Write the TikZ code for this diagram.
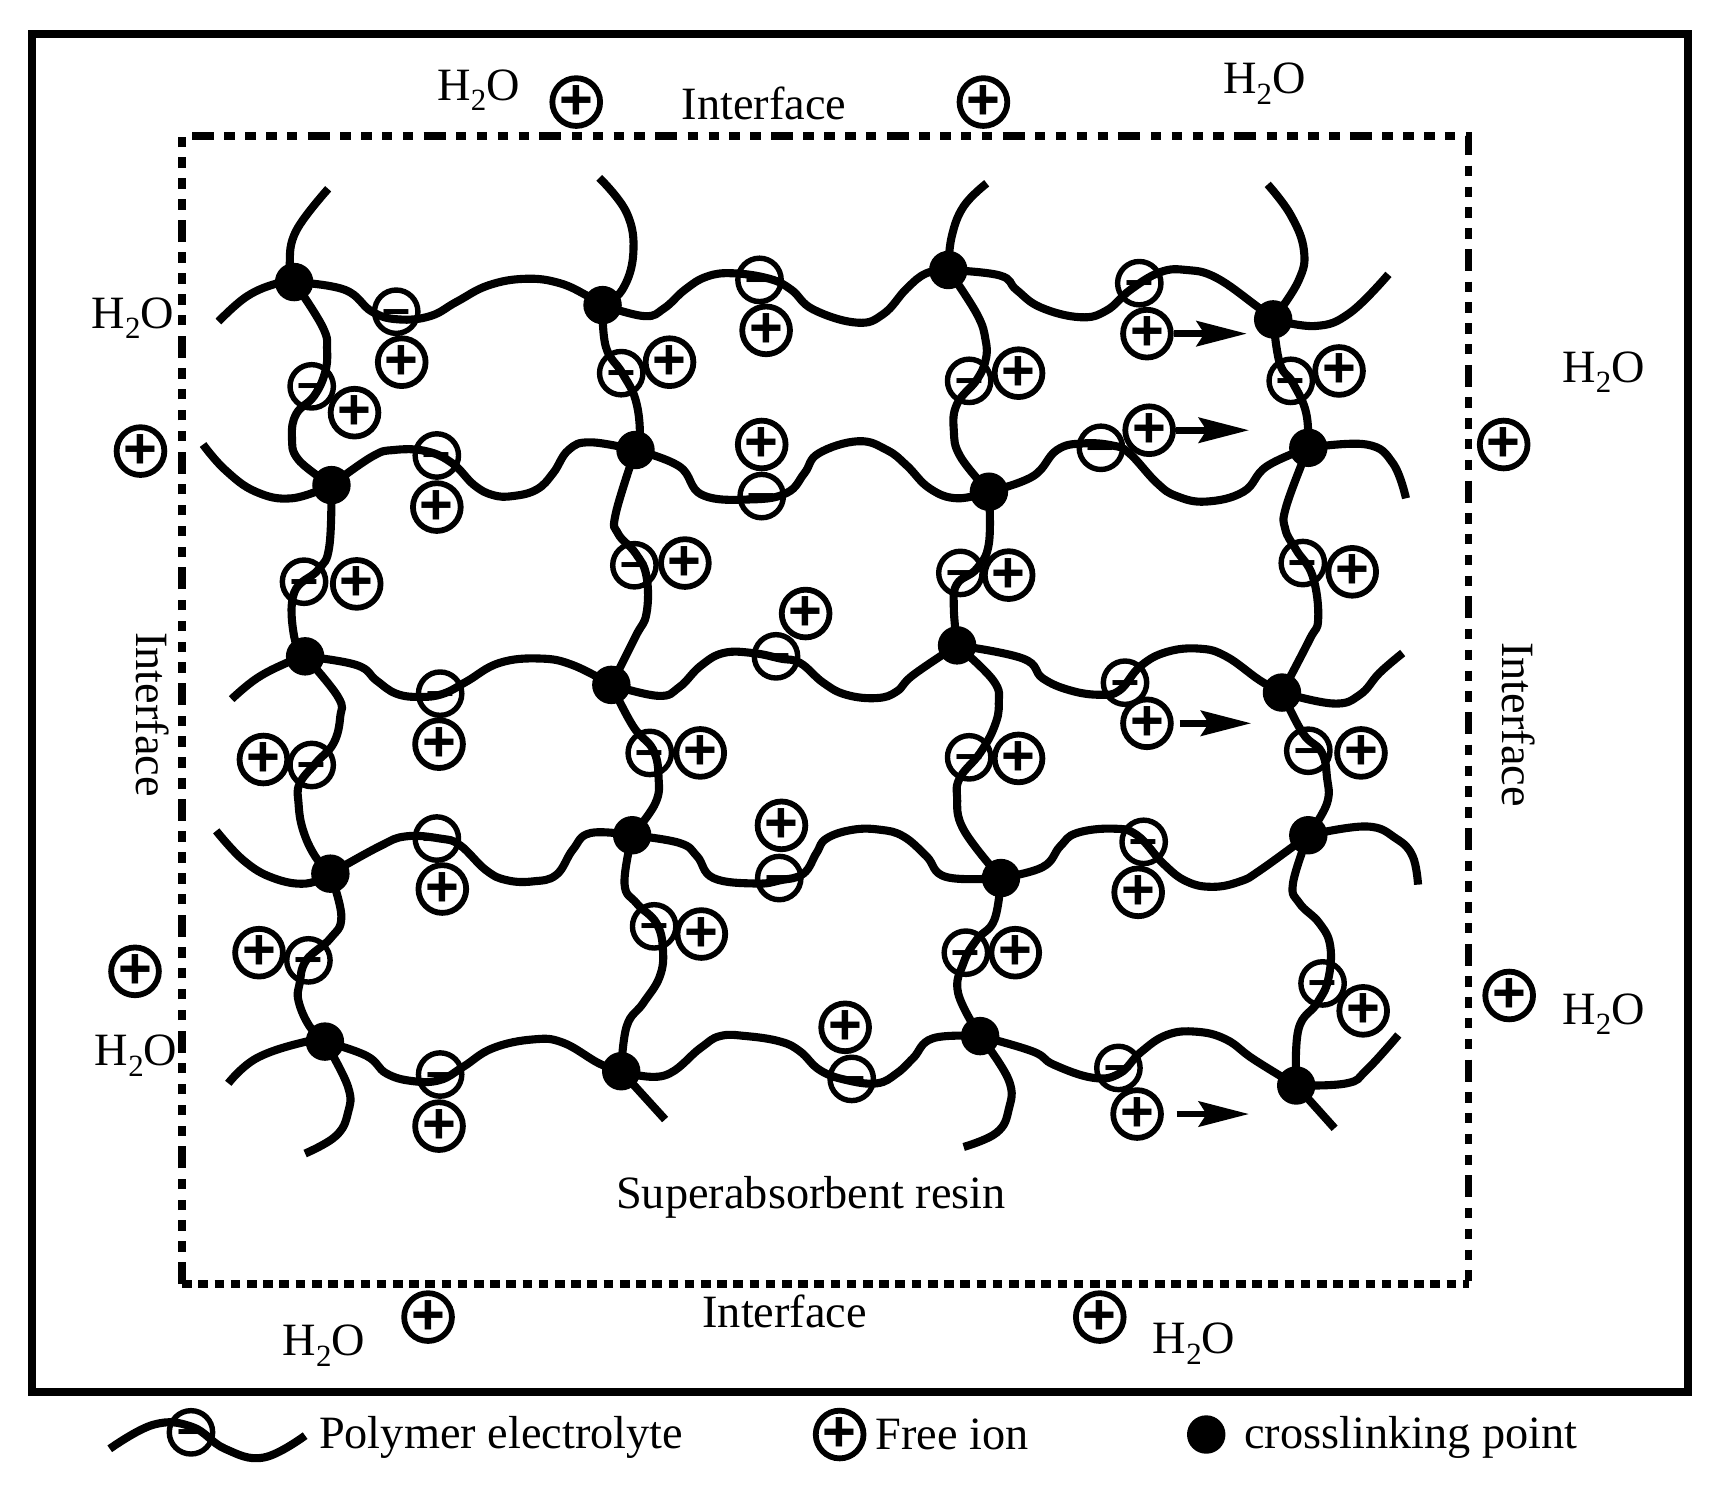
\documentclass[tikz,border=0pt]{standalone}
\usepackage{fontspec}
\setmainfont{Liberation Serif}
\newfontfamily\ionfont{Liberation Sans}[BoldFont={Liberation Sans Bold}]
\usetikzlibrary{arrows.meta}
\newcommand{\water}{H\raisebox{-.5ex}{\footnotesize 2}O}
\tikzset{
    strand/.style={line width=2.1pt, smooth, tension=0.7},
    crosslink/.style={circle, fill=black, inner sep=0pt, minimum size=0.35cm},
    freeion/.style={circle, draw, line width=1.5pt, inner sep=0pt, minimum size=0.395cm, font=\ionfont\bfseries\fontsize{15}{15}\selectfont},
    siteion/.style={circle, draw, line width=1.4pt, inner sep=0pt, minimum size=0.395cm, text height=7pt, text depth=0pt, font=\ionfont\bfseries\fontsize{13}{13}\selectfont},
    drift/.style={line width=1.75pt, -{Stealth[length=13pt, width=6.5pt, inset=2pt]}},
    interface/.style={line width=2pt, dash pattern=on 5.7pt off 2.7pt on 2.7pt off 2.7pt on 2.7pt off 2.7pt on 2.7pt off 2.7pt on 2.7pt off 2.7pt},
    interfacedense/.style={line width=2pt, dash pattern=on 2.5pt off 1.7pt},
    caption/.style={inner sep=0pt, font=\fontsize{12}{14}\selectfont}
}

\begin{document}
\begin{tikzpicture}[x=0.01cm, y=-0.01cm]
    \useasboundingbox (0,0) rectangle (1568,1358);

    % Define the crosslinking points
    \node[crosslink] (c11) at (268,257) {};
    \node[crosslink] (c12) at (549,278) {};
    \node[crosslink] (c13) at (864,246) {};
    \node[crosslink] (c14) at (1160,291) {};
    \node[crosslink] (c21) at (302,442) {};
    \node[crosslink] (c22) at (579,410) {};
    \node[crosslink] (c23) at (901,448) {};
    \node[crosslink] (c24) at (1192,408) {};
    \node[crosslink] (c31) at (278,598) {};
    \node[crosslink] (c32) at (557,624) {};
    \node[crosslink] (c33) at (872,588) {};
    \node[crosslink] (c34) at (1168,631) {};
    \node[crosslink] (c41) at (301,796) {};
    \node[crosslink] (c42) at (576,761) {};
    \node[crosslink] (c43) at (912,800) {};
    \node[crosslink] (c44) at (1192,761) {};
    \node[crosslink] (c51) at (296,949) {};
    \node[crosslink] (c52) at (566,976) {};
    \node[crosslink] (c53) at (893,944) {};
    \node[crosslink] (c54) at (1181,989) {};

    % Free ends of the strands
    \coordinate (l1) at (199,293);
    \coordinate (l2) at (185,405);
    \coordinate (l3) at (211,637);
    \coordinate (l4) at (197,757);
    \coordinate (l5) at (208,987);
    \coordinate (r1) at (1265,250);
    \coordinate (r2) at (1281,454);
    \coordinate (r3) at (1278,595);
    \coordinate (r4) at (1292,806);
    \coordinate (r5) at (1274,943);
    \coordinate (t1) at (299,172);
    \coordinate (t2) at (546,162);
    \coordinate (t3) at (899,167);
    \coordinate (t4) at (1155,168);
    \coordinate (b1) at (278,1051);
    \coordinate (b2) at (606,1020);
    \coordinate (b3) at (878,1045);
    \coordinate (b4) at (1216,1028);

    % Draw the frames
    \coordinate (g1) at (166,1170);
    \coordinate (g2) at (166,124);
    \coordinate (g3) at (1338,124);
    \coordinate (g4) at (1338,1170);
    \draw[line width=2.1pt] (29,31) rectangle (1538,1268);
    \draw[interface] (g1) -- (g2) -- (g3) -- (g4);
    \draw[interfacedense] (g1) -- (g4);

    % Draw the horizontal strands
    \draw[strand] plot coordinates {(l1) (225,270) (253,258) (c11)};
    \draw[strand] plot coordinates {(c11) (314,264) (339,284) (363,291) (392,288) (416,275) (445,260) (479,254) (510,258) (536,270) (c12)};
    \draw[strand] plot coordinates {(c12) (587,288) (605,281) (624,264) (644,252) (668,249) (701,254) (721,264) (741,282) (781,294) (805,286) (826,263) (844,249) (c13)};
    \draw[strand] plot coordinates {(c13) (911,251) (926,264) (948,280) (984,289) (1008,283) (1030,264) (1057,248) (1081,246) (1108,253) (1145,279) (c14)};
    \draw[strand] plot coordinates {(c14) (1199,297) (1230,285) (r1)};

    \draw[strand] plot coordinates {(l2) (205,428) (233,448) (266,454) (c21)};
    \draw[strand] plot coordinates {(c21) (339,416) (359,410) (388,411) (412,422) (432,442) (449,451) (467,452) (489,446) (504,431) (518,410) (538,403) (c22)};
    \draw[strand] plot coordinates {(c22) (619,425) (640,451) (685,455) (717,449) (733,431) (746,413) (782,402) (808,410) (826,424) (847,445) (872,454) (c23)};
    \draw[strand] plot coordinates {(c23) (941,434) (963,410) (987,404) (1014,406) (1029,413) (1054,440) (1072,452) (1099,457) (1133,448) (1154,425) (c24)};
    \draw[strand] plot coordinates {(c24) (1245,405) (1269,422) (r2)};

    \draw[strand] plot coordinates {(l3) (234,618) (261,604) (c31)};
    \draw[strand] plot coordinates {(c31) (325,606) (343,620) (361,632) (383,635) (404,632) (425,621) (455,604) (492,600) (522,606) (c32)};
    \draw[strand] plot coordinates {(c32) (600,634) (619,626) (638,607) (659,595) (686,595) (711,600) (729,604) (750,622) (771,633) (799,636) (817,630) (832,615) (c33)};
    \draw[strand] plot coordinates {(c33) (932,600) (950,618) (975,629) (1002,633) (1020,629) (1039,607) (1063,594) (1093,591) (1117,598) (1148,620) (c34)};
    \draw[strand] plot coordinates {(c34) (1215,641) (1239,633) (1257,613) (r3)};

    \draw[strand] plot coordinates {(l4) (222,784) (249,800) (279,805) (c41)};
    \draw[strand] plot coordinates {(c41) (346,771) (370,762) (401,764) (419,770) (443,793) (462,802) (486,803) (507,797) (522,774) (538,759) (c42)};
    \draw[strand] plot coordinates {(c42) (619,768) (635,780) (650,800) (689,805) (711,802) (732,796) (744,777) (753,764) (777,756) (802,756) (823,762) (844,780) (862,799) (c43)};
    \draw[strand] plot coordinates {(c43) (950,790) (966,771) (981,759) (1014,755) (1036,761) (1060,787) (1081,803) (1105,808) (1130,803) (1148,793) (c44)};
    \draw[strand] plot coordinates {(c44) (1245,753) (1272,764) (1287,780) (r4)};

    \draw[strand] plot coordinates {(l5) (234,964) (279,949) (c51)};
    \draw[strand] plot coordinates {(c51) (334,962) (352,978) (376,985) (401,984) (422,972) (449,955) (486,947) (513,950) (546,969) (c52)};
    \draw[strand] plot coordinates {(c52) (605,980) (638,955) (656,944) (680,944) (711,949) (729,958) (747,975) (771,984) (799,987) (817,978) (832,964) (850,946) (c53)};
    \draw[strand] plot coordinates {(c53) (941,958) (960,970) (996,982) (1020,978) (1039,959) (1063,943) (1090,940) (1117,947) (1142,965) (c54)};
    \draw[strand] plot coordinates {(c54) (1227,987) (1245,975) (r5)};

    % Draw the vertical strands
    \draw[strand] plot coordinates {(t1) (270,210) (264,240) (c11)};
    \draw[strand] plot coordinates {(c11) (294,298) (298,319) (296,340) (286,361) (270,377) (266,398) (272,419) (c21)};
    \draw[strand] plot coordinates {(c21) (300,498) (290,519) (268,540) (268,580) (c31)};
    \draw[strand] plot coordinates {(c31) (308,635) (310,653) (304,677) (288,695) (273,714) (272,732) (276,756) (287,780) (c41)};
    \draw[strand] plot coordinates {(c41) (311,835) (301,855) (279,875) (273,896) (272,912) (282,935) (c51)};
    \draw[strand] plot coordinates {(c51) (317,990) (317,1014) (306,1035) (b1)};

    \draw[strand] plot coordinates {(t2) (571,194) (577,231) (567,264) (c12)};
    \draw[strand] plot coordinates {(c12) (552,316) (567,340) (579,364) (583,395) (c22)};
    \draw[strand] plot coordinates {(c22) (561,468) (563,486) (579,504) (589,525) (589,559) (579,580) (c32)};
    \draw[strand] plot coordinates {(c32) (577,662) (595,683) (600,708) (597,732) (c42)};
    \draw[strand] plot coordinates {(c42) (569,805) (580,823) (598,841) (604,865) (601,890) (586,914) (571,935) (c52)};
    \draw[strand] plot coordinates {(c52) (b2)};

    \draw[strand] plot coordinates {(t3) (878,188) (867,216) (c13)};
    \draw[strand] plot coordinates {(c13) (890,286) (898,310) (898,328) (890,346) (872,368) (869,392) (875,416) (c23)};
    \draw[strand] plot coordinates {(c23) (901,495) (890,518) (872,532) (869,553) (c33)};
    \draw[strand] plot coordinates {(c33) (905,620) (910,641) (906,662) (893,686) (875,708) (872,726) (878,756) (c43)};
    \draw[strand] plot coordinates {(c43) (906,838) (890,856) (878,877) (873,905) (c53)};
    \draw[strand] plot coordinates {(c53) (919,984) (919,1011) (908,1032) (b3)};

    \draw[strand] plot coordinates {(t4) (1176,196) (1188,228) (1183,256) (c14)};
    \draw[strand] plot coordinates {(c14) (1166,331) (1178,349) (1190,376) (c24)};
    \draw[strand] plot coordinates {(c24) (1172,461) (1171,482) (1181,501) (1196,525) (1201,564) (1193,583) (c34)};
    \draw[strand] plot coordinates {(c34) (1187,668) (1204,685) (1209,708) (1209,732) (c44)};
    \draw[strand] plot coordinates {(c44) (1178,805) (1184,823) (1202,841) (1212,862) (1210,893) (1200,914) (1183,938) (c54)};
    \draw[strand] plot coordinates {(c54) (b4)};

    % Define the charged sites on the strands
    \node[siteion] (m1) at (361,284) {–};
    \node[siteion] (m2) at (284,352) {–};
    \node[siteion] (m3) at (398,415) {–};
    \node[siteion] (m4) at (277,530) {–};
    \node[siteion] (m5) at (401,632) {–};
    \node[siteion] (m6) at (284,697) {–};
    \node[siteion] (m7) at (398,764) {–};
    \node[siteion] (m8) at (281,875) {–};
    \node[siteion] (m9) at (401,979) {–};
    \node[siteion] (m10) at (566,340) {–};
    \node[siteion] (m11) at (692,255) {–};
    \node[siteion] (m12) at (694,452) {–};
    \node[siteion] (m13) at (578,515) {–};
    \node[siteion] (m14) at (707,598) {–};
    \node[siteion] (m15) at (592,686) {–};
    \node[siteion] (m16) at (710,800) {–};
    \node[siteion] (m17) at (596,844) {–};
    \node[siteion] (m18) at (776,983) {–};
    \node[siteion] (m19) at (883,347) {–};
    \node[siteion] (m20) at (1038,258) {–};
    \node[siteion] (m21) at (1003,408) {–};
    \node[siteion] (m22) at (875,522) {–};
    \node[siteion] (m23) at (883,690) {–};
    \node[siteion] (m24) at (1025,622) {–};
    \node[siteion] (m25) at (880,868) {–};
    \node[siteion] (m26) at (1042,767) {–};
    \node[siteion] (m27) at (1019,973) {–};
    \node[siteion] (m28) at (1176,347) {–};
    \node[siteion] (m29) at (1187,513) {–};
    \node[siteion] (m30) at (1192,684) {–};
    \node[siteion] (m31) at (1205,896) {–};

    % Define the free ions
    \node[freeion] (p1) at (366,330) {+};
    \node[freeion] (p2) at (323,376) {+};
    \node[freeion] (p3) at (398,462) {+};
    \node[freeion] (p4) at (325,532) {+};
    \node[freeion] (p5) at (400,678) {+};
    \node[freeion] (p6) at (240,692) {+};
    \node[freeion] (p7) at (403,810) {+};
    \node[freeion] (p8) at (236,868) {+};
    \node[freeion] (p9) at (400,1026) {+};
    \node[freeion] (p10) at (610,330) {+};
    \node[freeion] (p11) at (698,301) {+};
    \node[freeion] (p12) at (694,405) {+};
    \node[freeion] (p13) at (624,513) {+};
    \node[freeion] (p14) at (734,559) {+};
    \node[freeion] (p15) at (638,686) {+};
    \node[freeion] (p16) at (712,752) {+};
    \node[freeion] (p17) at (639,851) {+};
    \node[freeion] (p18) at (770,936) {+};
    \node[freeion] (p19) at (928,340) {+};
    \node[freeion] (p20) at (1045,304) {+};
    \node[freeion] (p21) at (1047,392) {+};
    \node[freeion] (p22) at (919,524) {+};
    \node[freeion] (p23) at (928,691) {+};
    \node[freeion] (p24) at (1045,659) {+};
    \node[freeion] (p25) at (925,868) {+};
    \node[freeion] (p26) at (1037,813) {+};
    \node[freeion] (p27) at (1036,1015) {+};
    \node[freeion] (p28) at (1220,338) {+};
    \node[freeion] (p29) at (1232,521) {+};
    \node[freeion] (p30) at (1240,686) {+};
    \node[freeion] (p31) at (1242,921) {+};
    \node[freeion] (p32) at (525,93) {+};
    \node[freeion] (p33) at (896,93) {+};
    \node[freeion] (p34) at (128,411) {+};
    \node[freeion] (p35) at (123,885) {+};
    \node[freeion] (p36) at (1370,405) {+};
    \node[freeion] (p37) at (1375,907) {+};
    \node[freeion] (p38) at (390,1200) {+};
    \node[freeion] (p39) at (1002,1200) {+};

    % Draw the drift arrows
    \coordinate (a1) at (1136,304);
    \coordinate (a2) at (1138,392);
    \coordinate (a3) at (1140,659);
    \coordinate (a4) at (1138,1015);
    \draw[drift] (p20) -- (a1);
    \draw[drift] (p21) -- (a2);
    \draw[drift, shorten <=1.5pt] (p24) -- (a3);
    \draw[drift, shorten <=3.3pt] (p27) -- (a4);

    % Labels
    \node[caption] (w1) at (436,82) {\water};
    \node[caption] (w2) at (1152,76) {\water};
    \node[caption] (w3) at (121,290) {\water};
    \node[caption] (w4) at (1461,339) {\water};
    \node[caption] (w5) at (1461,924) {\water};
    \node[caption] (w6) at (124,962) {\water};
    \node[caption] (w7) at (295,1226) {\water};
    \node[caption] (w8) at (1088,1224) {\water};
    \node[caption] (f1) at (696,94) {Interface};
    \node[caption] (f2) at (715,1195) {Interface};
    \node[caption, rotate=-90] (f3) at (139,651) {Interface};
    \node[caption, rotate=-90] (f4) at (1384,660) {Interface};
    \node[caption] (s1) at (739,1091) {Superabsorbent resin};

    % Draw the legend
    \coordinate (k1) at (100,1320);
    \coordinate (k2) at (278,1308);
    \draw[strand] plot coordinates {(k1) (140,1298) (175,1300) (205,1320) (240,1328) (k2)};
    \node[siteion] (k3) at (174,1305) {–};
    \node[caption, anchor=west] (k4) at (290,1310) {Polymer electrolyte};
    \node[freeion] (k5) at (765,1307) {+};
    \node[caption, anchor=west] (k6) at (797,1307) {Free ion};
    \node[crosslink] (k7) at (1099,1307) {};
    \node[caption, anchor=west] (k8) at (1133,1310) {crosslinking point};
\end{tikzpicture}
\end{document}
